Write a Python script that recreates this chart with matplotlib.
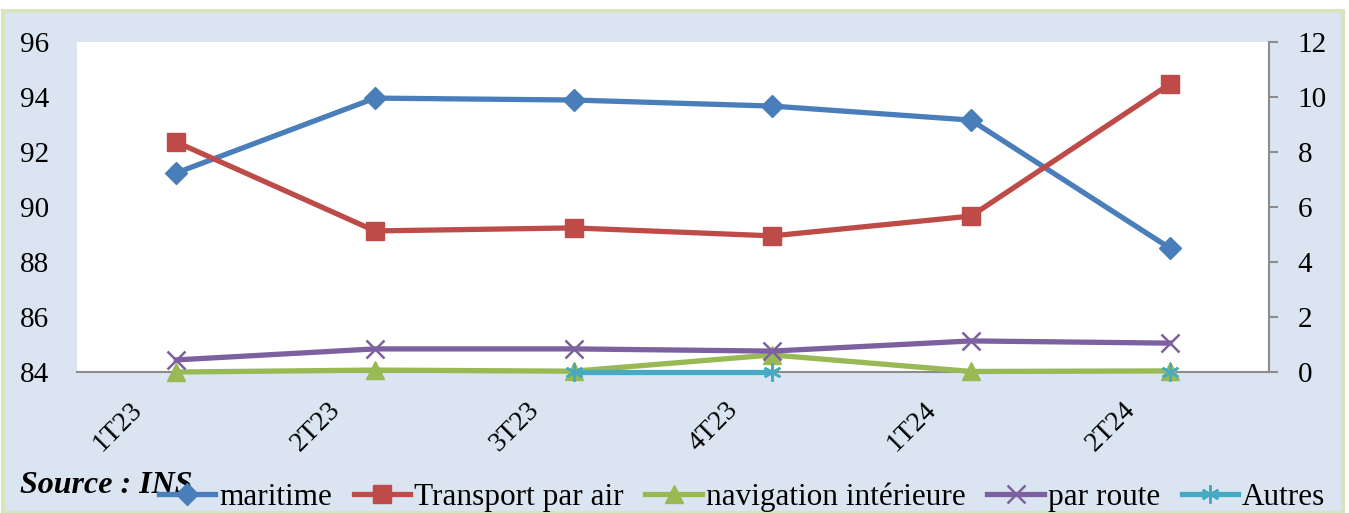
import numpy as np
import matplotlib
matplotlib.use("Agg")
import matplotlib.pyplot as plt
from matplotlib.patches import Rectangle
from matplotlib.transforms import ScaledTranslation

categories = ["1T23", "2T23", "3T23", "4T23", "1T24", "2T24"]
maritime = [91.24, 93.96, 93.89, 93.67, 93.16, 88.51]
transport_air = [8.36, 5.13, 5.24, 4.95, 5.67, 10.47]
navigation = [0.0, 0.07, 0.03, 0.62, 0.02, 0.04]
par_route = [0.44, 0.84, 0.84, 0.76, 1.13, 1.05]
autres = [np.nan, np.nan, 0.0, 0.0, np.nan, 0.0]
left_ticks = [84, 86, 88, 90, 92, 94, 96]
right_ticks = [0, 2, 4, 6, 8, 10, 12]

FONT = "Liberation Serif"
plt.rcParams['font.family'] = [FONT, 'DejaVu Serif']
FS_Y = 21
FS_X = 20
FS_LEG = 22.5

W, H = 1349, 513
fig = plt.figure(figsize=(W / 100, H / 100), dpi=100)
fig.patch.set_facecolor("white")
fig.patches.append(Rectangle((3 / W, 0), 1340 / W, 1 - 11 / H, transform=fig.transFigure,
                             facecolor="#dbe5f1", edgecolor="#d7e4bd", linewidth=3, zorder=-10))

ax = fig.add_axes([77 / W, 1 - 372 / H, 1192 / W, 330 / H])
ax2 = ax.twinx()
ax.set_facecolor("white")
x = np.arange(len(categories))

lw = 3.8
h1, = ax.plot(x, maritime, color="#4a7ebb", lw=lw, marker="D", ms=11, label="maritime")
h2, = ax2.plot(x, transport_air, color="#be4b48", lw=lw, marker="s", ms=13, label="Transport par air")
h3, = ax2.plot(x, navigation, color="#98b954", lw=lw, marker="^", ms=13, label="navigation intérieure",
               clip_on=False)
h4, = ax2.plot(x, par_route, color="#7d60a0", lw=lw, marker="x", ms=13, mew=1.8, label="par route",
               clip_on=False)
h5, = ax2.plot(x, autres, color="#46aac5", lw=lw, marker=(6, 2, 0), ms=13, mew=1.8, label="Autres",
               clip_on=False)

ax.set_xlim(-0.5, len(categories) - 0.5)
ax.set_ylim(84, 96)
ax2.set_ylim(0, 12)
ax.set_yticks(left_ticks)
ax2.set_yticks(right_ticks)
ax.set_yticklabels([str(v) for v in left_ticks], fontsize=FS_Y)
ax2.set_yticklabels([str(v) for v in right_ticks], fontsize=FS_Y)

for s in ["left", "top", "right"]:
    ax.spines[s].set_visible(False)
for s in ["left", "top"]:
    ax2.spines[s].set_visible(False)
ax.spines["bottom"].set_color("#8c8c8c")
ax.spines["bottom"].set_linewidth(1.5)
ax2.spines["bottom"].set_visible(False)
ax2.spines["right"].set_color("#8c8c8c")
ax2.spines["right"].set_linewidth(1.5)

ax.tick_params(axis="y", length=0, pad=20)
ax2.tick_params(axis="y", length=6.5, width=1.5, color="#8c8c8c", direction="out", pad=14)

ax.set_xticks(x)
ax.set_xticklabels(categories, fontsize=FS_X, rotation=45, ha="center", va="center")
ax.tick_params(axis="x", length=0, pad=0)
off = ScaledTranslation(-0.59, -0.55, fig.dpi_scale_trans)
for lab in ax.get_xticklabels():
    lab.set_transform(lab.get_transform() + off)

fig.text(20 / W, 1 - 493 / H, "Source : INS", fontsize=23, fontweight="bold", fontstyle="italic",
         ha="left", va="baseline")

fig.legend(handles=[h1, h2, h3, h4, h5], loc="center", bbox_to_anchor=(742 / W, 1 - 497 / H),
           ncol=5, frameon=False, fontsize=FS_LEG, handlelength=1.8, handletextpad=0.13,
           columnspacing=0.7, borderaxespad=0, borderpad=0)

fig.savefig("out.png", dpi=100)
